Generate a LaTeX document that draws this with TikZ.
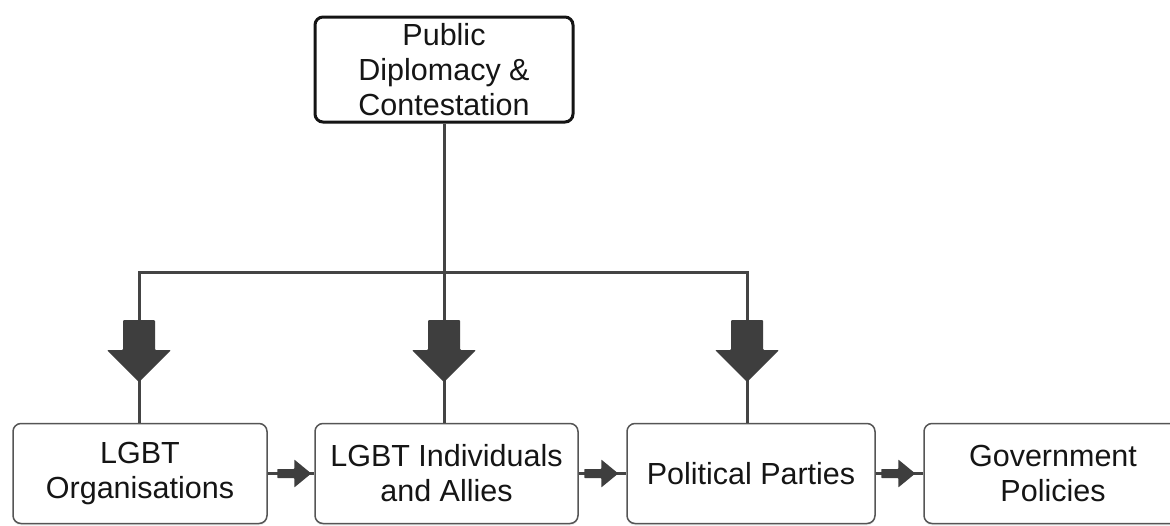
\documentclass[tikz,border=0pt]{standalone}
\usepackage{fontspec}
\setmainfont{Liberation Sans}
\usetikzlibrary{calc,shadows}
\definecolor{linegray}{HTML}{444444}
\definecolor{arrowgray}{HTML}{3E3E3E}
\definecolor{boxgray}{HTML}{555555}
\definecolor{textblack}{HTML}{151515}
\begin{document}
\begin{tikzpicture}[x=1pt,y=-1pt,
  mybox/.style={draw=boxgray, line width=1.5pt, rounded corners=8pt, fill=white,
    align=center, font=\fontsize{30.5}{35}\selectfont, text=textblack, inner sep=0pt,
    drop shadow={shadow xshift=0pt, shadow yshift=-2pt, opacity=0.12}},
  topbox/.style={mybox, draw=black!92, line width=3pt},
  conn/.style={draw=linegray, line width=3pt, line join=miter},
  bigarrow/.pic={\fill[arrowgray, rounded corners=1pt] (-16,0) -- (16,0) -- (16,30) -- (32,30) -- (0,62) -- (-32,30) -- (-16,30) -- cycle;},
  smallarrow/.pic={\fill[arrowgray, rounded corners=0.6pt] (-34,-4.5) -- (-17,-4.5) -- (-17,-14) -- (0,0) -- (-17,14) -- (-17,4.5) -- (-34,4.5) -- cycle;}
]
\useasboundingbox (0,0) rectangle (1170,525);
\clip (0,0) rectangle (1170,525);
\fill[white] (0,0) rectangle (1170,525);

% nodes
\node[topbox, minimum width=258pt, minimum height=105pt] (pub) at (444,69.5) {Public\\Diplomacy \&\\Contestation};
\node[mybox, minimum width=254pt, minimum height=100pt] (org) at (140,473.5) {LGBT\\Organisations};
\node[mybox, minimum width=263pt, minimum height=100pt] (ind) at (446.5,473.5) {LGBT Individuals\\and Allies};
\node[mybox, minimum width=248pt, minimum height=100pt] (pol) at (751,473.5) {Political Parties};
\node[mybox, minimum width=258pt, minimum height=100pt] (gov) at (1053,473.5) {Government\\Policies};

% junction coordinates
\coordinate (jm) at (pub.south |- 0,272);
\coordinate (jl) at (139,272);
\coordinate (jr) at (747,272);

% connectors from top box
\draw[conn] (pub.south) -- (jm |- ind.north);
\draw[conn] (jl |- org.north) -- (jl) -- (jr) -- (jr |- pol.north);

% big arrow heads
\pic at (jl |- 0,320) {bigarrow};
\pic at (jm |- 0,320) {bigarrow};
\pic at (jr |- 0,320) {bigarrow};

% horizontal connectors
\draw[conn] (org.east) -- (ind.west);
\draw[conn] (ind.east) -- (pol.west);
\draw[conn] (pol.east) -- (gov.west);
\pic at ($(ind.west)+(-3,0)$) {smallarrow};
\pic at ($(pol.west)+(-8,0)$) {smallarrow};
\pic at ($(gov.west)+(-8,0)$) {smallarrow};
\end{tikzpicture}
\end{document}
